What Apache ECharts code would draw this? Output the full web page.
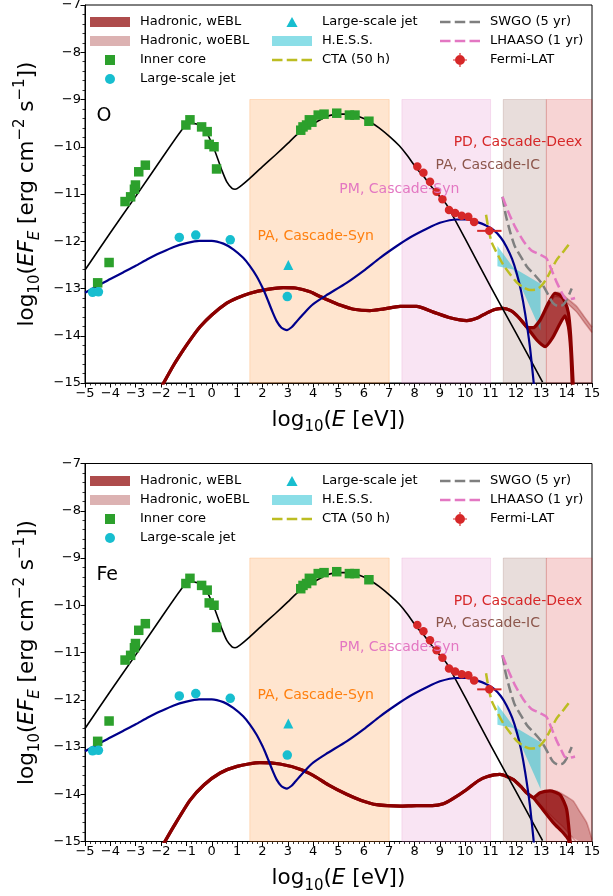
<!DOCTYPE html>
<html><head><meta charset="utf-8">
<script src="https://cdn.jsdelivr.net/npm/echarts@6/dist/echarts.min.js"></script>
<style>html,body{margin:0;padding:0;background:#fff}#c{width:613px;height:896px}</style>
</head><body><div id="c"></div>
<script>
const FF = 'DejaVu Sans';
const xMin = -5, xMax = 15, yMin = -15, yMax = -7, tickStep = 1;

// ---------- data: observations ----------
const innerCore = [[-4.50,-12.88],[-4.05,-12.45],[-3.42,-11.16],[-3.20,-11.06],[-3.05,-10.90],[-3.01,-10.81],[-2.88,-10.53],[-2.62,-10.39],[-1.02,-9.54],[-0.86,-9.43],[-0.40,-9.58],[-0.18,-9.68],[-0.10,-9.95],[0.09,-10.00],[0.19,-10.47],[3.51,-9.65],[3.60,-9.58],[3.74,-9.54],[3.85,-9.43],[3.95,-9.48],[4.20,-9.33],[4.43,-9.31],[4.93,-9.29],[5.43,-9.33],[5.65,-9.33],[6.20,-9.46]];
const largeJet = [[-4.70,-13.08],[-4.47,-13.07],[-1.28,-11.92],[-0.63,-11.87],[0.73,-11.97],[2.98,-13.17]];
const largeJetTri = [[3.02,-12.50]];
const fermiLAT = [[8.11,-10.42],[8.35,-10.55],[8.61,-10.74],[8.87,-10.95],[9.10,-11.11],[9.36,-11.34],[9.60,-11.40],[9.86,-11.46],[10.12,-11.48],[10.35,-11.59],[10.95,-11.78]];
const fermiErr = [[10.95,-11.78,10.47,11.43,-11.86,-11.70]]; // x, y, xlo, xhi, ylo, yhi
const hessBowtie = [[11.27,-12.10],[11.90,-12.56],[12.97,-12.90],[12.97,-13.89],[11.90,-12.60],[11.27,-12.53]];
const ctaSens = [[10.82,-11.44],[10.92,-11.75],[11.04,-12.02],[11.2,-12.2],[11.5,-12.5],[11.8,-12.72],[12.03,-12.87],[12.3,-12.98],[12.55,-13.03],[12.8,-13.02],[12.95,-12.97],[13.1,-12.88],[13.28,-12.72],[13.6,-12.40],[13.9,-12.2],[14.18,-12.0]];
const swgoSens = [[11.47,-11.06],[11.6,-11.45],[11.77,-11.8],[11.95,-12.1],[12.16,-12.3],[12.45,-12.55],[12.75,-12.72],[13.0,-12.88],[13.2,-13.06],[13.45,-13.3],[13.65,-13.37],[13.85,-13.35],[14.0,-13.24],[14.2,-13.0]];
const lhaasoSens = [[11.47,-11.06],[11.7,-11.38],[11.96,-11.69],[12.3,-12.0],[12.6,-12.19],[12.9,-12.27],[13.2,-12.36],[13.4,-12.6],[13.6,-12.86],[13.8,-13.08],[13.93,-13.21],[14.1,-13.23],[14.33,-13.2]];

// ---------- data: models ----------
const innerCoreModel = [[-5,-12.61],[-4,-11.82],[-3,-11.05],[-2,-10.27],[-1.15,-9.62],[-0.9,-9.5],[-0.6,-9.52],[-0.3,-9.62],[0,-9.92],[0.2,-10.2],[0.4,-10.5],[0.6,-10.75],[0.8,-10.88],[0.92,-10.9],[1.1,-10.85],[1.5,-10.67],[2,-10.42],[2.5,-10.18],[3,-9.93],[3.35,-9.75],[3.8,-9.58],[4.14,-9.47],[4.5,-9.37],[4.93,-9.31],[5.3,-9.31],[5.58,-9.33],[6.0,-9.4],[6.24,-9.47],[6.6,-9.6],[7.03,-9.79],[7.4,-9.98],[7.69,-10.17],[8.08,-10.46],[8.35,-10.62],[8.6,-10.8],[8.87,-10.98],[9.1,-11.12],[9.27,-11.23],[10,-11.95],[11,-12.96],[12,-13.94],[13.05,-14.98]];
const largeJetModel = [[-5,-13.09],[-4.5,-12.94],[-4,-12.8],[-3.5,-12.66],[-3,-12.52],[-2.5,-12.37],[-2,-12.24],[-1.5,-12.12],[-1,-12.04],[-0.5,-11.99],[0,-11.99],[0.46,-12.05],[0.85,-12.17],[1.24,-12.35],[1.5,-12.52],[1.77,-12.74],[2.0,-12.98],[2.17,-13.19],[2.4,-13.5],[2.56,-13.69],[2.75,-13.83],[2.96,-13.88],[3.15,-13.82],[3.3,-13.73],[3.48,-13.62],[3.75,-13.46],[4.0,-13.33],[4.5,-13.15],[5.32,-12.88],[6.0,-12.62],[6.64,-12.35],[7.3,-12.1],[7.82,-11.92],[8.5,-11.73],[9.0,-11.61],[9.66,-11.54],[10.1,-11.54],[10.45,-11.59],[10.8,-11.66],[11.11,-11.76],[11.4,-11.92],[11.63,-12.12],[11.85,-12.38],[12.03,-12.68],[12.2,-13.05],[12.36,-13.52],[12.55,-14.23],[12.72,-15.1]];

// Hadronic, O
const hadO_main = [[-1.95,-15.05],[-1.5,-14.62],[-1.12,-14.30],[-0.8,-14.05],[-0.46,-13.81],[0,-13.56],[0.59,-13.31],[1.0,-13.2],[1.51,-13.1],[2.2,-13.02],[2.82,-12.98],[3.3,-12.99],[3.88,-13.07],[4.27,-13.17],[4.7,-13.27],[5.06,-13.35],[5.6,-13.44],[6.24,-13.47],[6.8,-13.43],[7.43,-13.38],[8.08,-13.38],[8.74,-13.5],[9.4,-13.62],[10.06,-13.68],[10.5,-13.62],[10.84,-13.52],[11.2,-13.44],[11.5,-13.42],[11.8,-13.47],[12.03,-13.57],[12.25,-13.7],[12.42,-13.81]];
const hadO_upTail = [[12.68,-13.83],[12.95,-13.67],[13.28,-13.31],[13.54,-13.1],[13.74,-13.14],[13.93,-13.28],[14.07,-13.52],[14.16,-14.02],[14.26,-15.05]];
const hadO_lowTail = [[12.82,-14.09],[13.15,-14.23],[13.47,-14.02],[13.74,-13.74],[13.93,-13.58],[14.07,-13.81],[14.16,-14.3],[14.22,-15.05]];
const hadO_woUp = [[12.7,-13.83],[12.95,-13.66],[13.28,-13.3],[13.54,-13.08],[13.8,-13.1],[14.0,-13.2],[14.4,-13.38],[14.7,-13.6],[15,-13.82]];
const hadO_woLow = [[12.7,-13.86],[12.95,-13.72],[13.28,-13.38],[13.54,-13.17],[13.8,-13.2],[14.0,-13.3],[14.4,-13.5],[14.7,-13.72],[15,-13.93]];
// Hadronic, Fe
const hadFe_main = [[-1.9,-15.05],[-1.5,-14.68],[-0.86,-14.13],[-0.3,-13.8],[0.33,-13.55],[1.0,-13.41],[1.9,-13.33],[2.69,-13.36],[3.48,-13.47],[4.0,-13.6],[4.6,-13.8],[5.32,-14.0],[5.9,-14.13],[6.5,-14.22],[7.43,-14.25],[8.08,-14.24],[8.7,-14.24],[9.14,-14.2],[9.5,-14.1],[10.06,-13.9],[10.5,-13.72],[10.85,-13.63],[11.37,-13.58],[11.9,-13.69],[12.2,-13.84],[12.42,-13.97],[12.68,-14.07]];
const hadFe_upTail = [[12.95,-13.97],[13.34,-13.93],[13.74,-14.01],[14.0,-14.32],[14.13,-14.96],[14.15,-15.05]];
const hadFe_lowTail = [[12.95,-14.25],[13.47,-14.6],[13.87,-14.82],[14.07,-14.96],[14.1,-15.05]];
const hadFe_woUp = [[12.7,-14.07],[12.95,-13.97],[13.34,-13.92],[13.6,-13.93],[14.0,-14.05],[14.27,-14.15],[14.5,-14.35],[14.79,-14.6],[15,-14.96]];
const hadFe_woLow = [[12.7,-14.09],[12.95,-14.22],[13.47,-14.5],[13.87,-14.7],[14.2,-14.9],[14.5,-15.05],[15,-15.05]];

// ---------- annotations ----------
const spanRanges = [[1.5,7.0],[7.5,11.0],[11.5,13.2],[13.2,15.0]];
const spanTop = -9;
const regionText = ['PA, Cascade-Syn','PM, Cascade-Syn','PA, Cascade-IC','PD, Cascade-Deex'];
const regionPos = [[4.1,-11.9],[7.4,-10.9],[10.89,-10.39],[12.08,-9.91]];
const panelNames = ['O','Fe'];
const panelLabelPos = [-4.55,-9.36];

// ---------- styles ----------
const C = {black:'#000000', blue:'#00008b', darkred:'#8b0000', green:'#2ca02c', cyan:'#17becf', red:'#d62728', olive:'#bcbd22', grey:'#7f7f7f', pink:'#e377c2', orange:'#ff7f0e', brown:'#8c564b'};
const spanColors = ['rgba(255,127,14,0.2)','rgba(227,119,194,0.2)','rgba(140,86,75,0.2)','rgba(214,39,40,0.2)'];
const regionColors = [C.orange, C.pink, C.brown, C.red];
const wEBLfill = 'rgba(139,0,0,0.7)', woEBLfill = 'rgba(139,0,0,0.3)', hessFill = 'rgba(23,190,207,0.5)';
const gridTops = [5, 463.5];

function clampPt(p){return [Math.min(xMax,Math.max(xMin,p[0])), Math.min(yMax,Math.max(yMin,p[1]))];}
function polygonSeries(gi,name,pts,fill,z){
  return {type:'custom', name, xAxisIndex:gi, yAxisIndex:gi, z, silent:true, animation:false,
    data:[clampPt(pts[0])],
    renderItem:function(params, api){
      return {type:'polygon', shape:{points: pts.map(p=>api.coord(clampPt(p)))}, style:{fill:fill}};
    }};
}
function lineSeries(gi,name,pts,color,width,dash,z,smooth){
  return {type:'line', name, xAxisIndex:gi, yAxisIndex:gi, data:pts, symbol:'none', showSymbol:false,
    smooth: smooth||false, clip:true, silent:true, animation:false, z,
    lineStyle:{color, width, type: dash||'solid', cap:'butt', join:'round'}};
}
function scatterSeries(gi,name,pts,symbol,size,color,z){
  return {type:'scatter', name, xAxisIndex:gi, yAxisIndex:gi, data:pts, symbol, symbolSize:size,
    itemStyle:{color, opacity:1}, z, silent:true, animation:false};
}

function panelSeries(gi, had){
  const s = [];
  s.push({type:'custom', name:'spans', xAxisIndex:gi, yAxisIndex:gi, z:1, silent:true, animation:false,
    data: spanRanges.map(r=>[r[0], r[1]]),
    renderItem:function(params, api){
      const p0 = api.coord([api.value(0), spanTop]);
      const p1 = api.coord([api.value(1), yMin]);
      const col = spanColors[params.dataIndex];
      return {type:'rect', shape:{x:p0[0], y:p0[1], width:p1[0]-p0[0], height:p1[1]-p0[1]}, style:{fill:col, stroke:col, lineWidth:1}};
    }});
  const up = had.main.concat(had.upTail), low = had.main.concat(had.lowTail);
  s.push(polygonSeries(gi,'Hadronic, woEBL', had.woUp.concat(had.woLow.slice().reverse()), woEBLfill, 2));
  s.push(lineSeries(gi,'woEBL-up', had.woUp, 'rgba(139,0,0,0.3)', 1.5, null, 2, 0.2));
  s.push(lineSeries(gi,'woEBL-low', had.woLow, 'rgba(139,0,0,0.3)', 1.5, null, 2, 0.2));
  s.push(polygonSeries(gi,'Hadronic, wEBL', up.concat(low.slice().reverse()), wEBLfill, 3));
  s.push(lineSeries(gi,'wEBL-up', up, C.darkred, 3.2, null, 4, 0.2));
  s.push(lineSeries(gi,'wEBL-low', low, C.darkred, 3.2, null, 4, 0.2));
  s.push(polygonSeries(gi,'H.E.S.S.', hessBowtie, hessFill, 3));
  s.push(lineSeries(gi,'Inner core model', innerCoreModel, C.black, 1.6, null, 4, 0.2));
  s.push(lineSeries(gi,'Large-scale jet model', largeJetModel, C.blue, 2.2, null, 4, 0.2));
  s.push(lineSeries(gi,'CTA (50 h)', ctaSens, C.olive, 2.5, [10,4.3], 5, 0.2));
  s.push(lineSeries(gi,'SWGO (5 yr)', swgoSens, C.grey, 2.5, [10,4.3], 5, 0.2));
  s.push(lineSeries(gi,'LHAASO (1 yr)', lhaasoSens, C.pink, 2.5, [10,4.3], 5, 0.2));
  s.push({type:'custom', name:'Fermi-LAT err', xAxisIndex:gi, yAxisIndex:gi, z:6, silent:true, animation:false,
    data: fermiErr,
    renderItem:function(params, api){
      const y = api.value(1), x = api.value(0);
      const a = api.coord([api.value(2), y]), b = api.coord([api.value(3), y]);
      const c = api.coord([x, api.value(4)]), d = api.coord([x, api.value(5)]);
      return {type:'group', children:[
        {type:'line', shape:{x1:a[0],y1:a[1],x2:b[0],y2:b[1]}, style:{stroke:C.red, lineWidth:2}},
        {type:'line', shape:{x1:c[0],y1:c[1],x2:d[0],y2:d[1]}, style:{stroke:C.red, lineWidth:2}}]};
    }});
  s.push(scatterSeries(gi,'Inner core', innerCore, 'rect', 9.5, C.green, 6));
  s.push(scatterSeries(gi,'Large-scale jet', largeJet, 'circle', 9.5, C.cyan, 6));
  s.push(scatterSeries(gi,'LSJ-tri', largeJetTri, 'triangle', 10, C.cyan, 6));
  s.push(scatterSeries(gi,'Fermi-LAT', fermiLAT, 'circle', 8.5, C.red, 7));
  s.push({type:'scatter', name:'labels', xAxisIndex:gi, yAxisIndex:gi, symbolSize:0, z:8, silent:true, animation:false,
    itemStyle:{opacity:1},
    data: regionPos.map((p,i)=>({value:p, label:{formatter:regionText[i], color:regionColors[i]}}))
      .concat([{value:panelLabelPos, label:{formatter:panelNames[gi], color:'#000', fontSize:19, position:'right', distance:0}}]),
    label:{show:true, position:'inside', fontSize:14, fontFamily:FF, opacity:1}});
  return s;
}

const hadronic = [
  {main:hadO_main, upTail:hadO_upTail, lowTail:hadO_lowTail, woUp:hadO_woUp, woLow:hadO_woLow},
  {main:hadFe_main, upTail:hadFe_upTail, lowTail:hadFe_lowTail, woUp:hadFe_woUp, woLow:hadFe_woLow}
];

const minus = v => (v < 0 ? '\u2212' : '') + Math.abs(v);
const richName = {
  a:{fontSize:21.5, fontFamily:FF, color:'#000', lineHeight:30},
  b:{fontSize:15, fontFamily:FF, color:'#000', lineHeight:15, verticalAlign:'bottom'},
  c:{fontSize:21.5, fontFamily:FF, color:'#000', lineHeight:30, fontStyle:'italic'},
  d:{fontSize:15, fontFamily:FF, color:'#000', lineHeight:15, verticalAlign:'bottom', fontStyle:'italic'},
  e:{fontSize:15, fontFamily:FF, color:'#000', lineHeight:15, verticalAlign:'top'}
};
const axisCommon = {
  type:'value', interval:tickStep,
  axisLine:{show:true, onZero:false, lineStyle:{color:'#000', width:1}},
  axisTick:{show:true, length:4.5, lineStyle:{color:'#000', width:1}},
  minorTick:{show:true, splitNumber:5, length:2.5, lineStyle:{color:'#000', width:0.8}},
  splitLine:{show:false}, minorSplitLine:{show:false},
  axisLabel:{formatter:minus, color:'#000', fontSize:13, fontFamily:FF, margin:4, showMinLabel:true, showMaxLabel:true, hideOverlap:false},
  nameLocation:'middle', nameTextStyle:{rich:richName}
};
const xAxes = [0,1].map(gi => Object.assign({}, axisCommon, {gridIndex:gi, min:xMin, max:xMax,
  name:'{a|log}{b|10}{a|(}{c|E}{a| [eV])}', nameGap:22}));
const yAxes = [0,1].map(gi => Object.assign({}, axisCommon, {gridIndex:gi, min:yMin, max:yMax,
  name:'{a|log}{b|10}{a|(}{c|EF}{d|E}{a| [erg cm}{e|\u22122}{a| s}{e|\u22121}{a|])}', nameGap:40}));

const dashPath = 'path://M0,0h10.5v2.5h-10.5z M14.75,0h10.5v2.5h-10.5z M29.5,0h10.5v2.5h-10.5z';
const squarePath = 'path://M0,0h10v10h-10z';
const triPath = 'path://M5,0L10,9L0,9z';
const fermiPath = 'path://M0,11h24v2h-24z M11,0h2v24h-2z M20.5,12a8.5,8.5 0 1,1 -17,0a8.5,8.5 0 1,1 17,0z';
const legendLabel = {'LSJ-tri':'Large-scale jet'};
const legendCols = [
  {left:90, h:10, data:[
    {name:'Hadronic, wEBL', icon:'rect', itemStyle:{color:wEBLfill, borderWidth:0}},
    {name:'Hadronic, woEBL', icon:'rect', itemStyle:{color:woEBLfill, borderWidth:0}},
    {name:'Inner core', icon:squarePath, itemStyle:{color:C.green, borderWidth:0}},
    {name:'Large-scale jet', icon:'circle', itemStyle:{color:C.cyan, borderWidth:0}}]},
  {left:272, h:10, data:[
    {name:'LSJ-tri', icon:triPath, itemStyle:{color:C.cyan, borderWidth:0}},
    {name:'H.E.S.S.', icon:'rect', itemStyle:{color:hessFill, borderWidth:0}},
    {name:'CTA (50 h)', icon:dashPath, itemStyle:{color:C.olive, borderWidth:0}}]},
  {left:440, h:14, data:[
    {name:'SWGO (5 yr)', icon:dashPath, itemStyle:{color:C.grey, borderWidth:0}},
    {name:'LHAASO (1 yr)', icon:dashPath, itemStyle:{color:C.pink, borderWidth:0}},
    {name:'Fermi-LAT', icon:fermiPath, itemStyle:{color:C.red, borderWidth:0}}]}
];
const legendRow1 = [22, 481];
const legends = [];
[0,1].forEach(gi => legendCols.forEach(col => legends.push({
  orient:'vertical', left:col.left, top:legendRow1[gi]-7, itemWidth:40, itemHeight:col.h, itemGap:5, padding:0,
  symbolKeepAspect:true, selectedMode:false, data:col.data, formatter:n => legendLabel[n] || n,
  textStyle:{fontSize:13, fontFamily:FF, color:'#000', lineHeight:14, padding:[0,0,0,5]}
})));

const option = {
  backgroundColor:'#fff', animation:false,
  textStyle:{fontFamily:FF},
  grid: gridTops.map(t => ({left:85, top:t, width:507, height:378, show:true, borderColor:'#000', borderWidth:1, backgroundColor:'transparent', containLabel:false, outerBoundsMode:'none'})),
  xAxis: xAxes, yAxis: yAxes,
  legend: legends,
  series: panelSeries(0, hadronic[0]).concat(panelSeries(1, hadronic[1]))
};
const chart = echarts.init(document.getElementById('c'), null, {renderer:'canvas'});
chart.setOption(option);
</script></body></html>
